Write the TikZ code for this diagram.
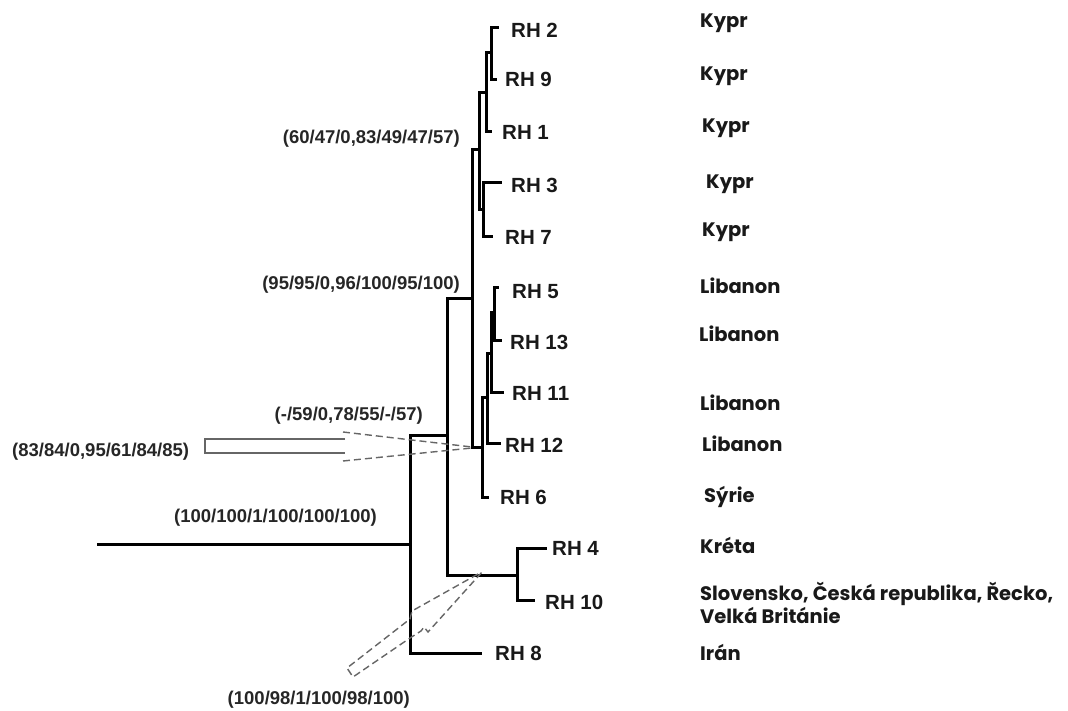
\documentclass[tikz,border=0pt]{standalone}
\usepackage{fontspec}
\setmainfont{Liberation Sans}
\newfontfamily\cfont{Poppins}
\begin{document}
\begin{tikzpicture}[x=1pt,y=-1pt,
  br/.style={line width=3pt, black, line cap=rect},
  rh/.style={font=\fontsize{20.5}{22}\selectfont\bfseries, anchor=west, inner sep=0pt, text=black!90},
  ctry/.style={font=\cfont\fontsize{19.5}{23}\selectfont\bfseries, anchor=west, inner sep=0pt, align=left, text=black!90},
  suplab/.style={font=\fontsize{18.5}{20}\selectfont\bfseries, inner sep=0pt, text=black!85},
  callout/.style={draw=black!60, line width=1.4pt},
  dsh/.style={callout, dash pattern=on 7pt off 4pt}]
\useasboundingbox (0,0) rectangle (1068,711);
% internal nodes
\coordinate (rs) at (98,544);
\coordinate (R) at (410,544);
\coordinate (A) at (447,435);
\coordinate (B) at (472,299);
\coordinate (C) at (517,575);
\coordinate (D) at (479,150);
\coordinate (E) at (482,447);
\coordinate (F) at (486,93);
\coordinate (G) at (483,210);
\coordinate (H) at (491,53);
\coordinate (I) at (487,397);
\coordinate (J) at (491,353);
\coordinate (K) at (494,313);
% leaf ends
\coordinate (e2) at (497,28);
\coordinate (e9) at (495,80);
\coordinate (e1) at (490,132);
\coordinate (e3) at (500,183);
\coordinate (e7) at (491,237);
\coordinate (e5) at (497,288);
\coordinate (e13) at (500,340);
\coordinate (e11) at (502,392);
\coordinate (e12) at (499,443);
\coordinate (e6) at (487,497);
\coordinate (e4) at (545,548);
\coordinate (e10) at (533,600);
\coordinate (e8) at (480,653);
% branches
\draw[br] (rs) -- (R);
\draw[br] (R) |- (A);
\draw[br] (R) |- (e8);
\draw[br] (A) |- (B);
\draw[br] (A) |- (C);
\draw[br] (C) |- (e4);
\draw[br] (C) |- (e10);
\draw[br] (B) |- (D);
\draw[br] (B) |- (E);
\draw[br] (D) |- (F);
\draw[br] (D) |- (G);
\draw[br] (F) |- (H);
\draw[br] (F) |- (e1);
\draw[br] (H) |- (e2);
\draw[br] (H) |- (e9);
\draw[br] (G) |- (e3);
\draw[br] (G) |- (e7);
\draw[br] (E) |- (I);
\draw[br] (E) |- (e6);
\draw[br] (I) |- (J);
\draw[br] (I) |- (e12);
\draw[br] (J) |- (K);
\draw[br] (J) |- (e11);
\draw[br] (K) |- (e5);
\draw[br] (K) |- (e13);
% leaf labels
\node[rh] (l2) at (511,30) {RH 2};
\node[rh] (l9) at (505,79) {RH 9};
\node[rh] (l1) at (502,132) {RH 1};
\node[rh] (l3) at (511,185) {RH 3};
\node[rh] (l7) at (505,237) {RH 7};
\node[rh] (l5) at (512,292) {RH 5};
\node[rh] (l13) at (510,342) {RH 13};
\node[rh] (l11) at (512,393) {RH 11};
\node[rh] (l12) at (505,445) {RH 12};
\node[rh] (l6) at (500,497) {RH 6};
\node[rh] (l4) at (552,548) {RH 4};
\node[rh] (l10) at (545,602) {RH 10};
\node[rh] (l8) at (495,653) {RH 8};
% countries
\node[ctry] (c2) at (700,23) {Kypr};
\node[ctry] (c9) at (700,76) {Kypr};
\node[ctry] (c1) at (702,128) {Kypr};
\node[ctry] (c3) at (706,184) {Kypr};
\node[ctry] (c7) at (702,232) {Kypr};
\node[ctry] (c5) at (700,286) {Libanon};
\node[ctry] (c13) at (699,334) {Libanon};
\node[ctry] (c11) at (700,403) {Libanon};
\node[ctry] (c12) at (702,444) {Libanon};
\node[ctry] (c6) at (704,497) {Sýrie};
\node[ctry] (c4) at (700,545) {Kréta};
\node[ctry] (c10) at (700,603) {Slovensko, Česká republika, Řecko,\\Velká Británie};
\node[ctry] (c8) at (700,652) {Irán};
% support values
\node[suplab, anchor=east] (s1) at (460,139) {(60/47/0,83/49/47/57)};
\node[suplab, anchor=east] (s2) at (460,285) {(95/95/0,96/100/95/100)};
\node[suplab, anchor=east] (s3) at (423,416) {(-/59/0,78/55/-/57)};
\node[suplab, anchor=west] (s4) at (12,452) {(83/84/0,95/61/84/85)};
\node[suplab, anchor=east] (s5) at (377,518) {(100/100/1/100/100/100)};
\node[suplab, anchor=east] (s6) at (410,700) {(100/98/1/100/98/100)};
% callout 1
\draw[callout] (345,439) -- (205,439) -- (205,453) -- (345,453);
\draw[dsh] (343,432) -- (472,447);
\draw[dsh] (343,461) -- (472,448);
% callout 2
\draw[dsh] (478,574) -- (412,611) -- (410,619) -- (347,668) -- (353,677) -- (410,638) -- (421,631) -- (424,627) -- (428,632) -- (483,571);
\end{tikzpicture}
\end{document}
